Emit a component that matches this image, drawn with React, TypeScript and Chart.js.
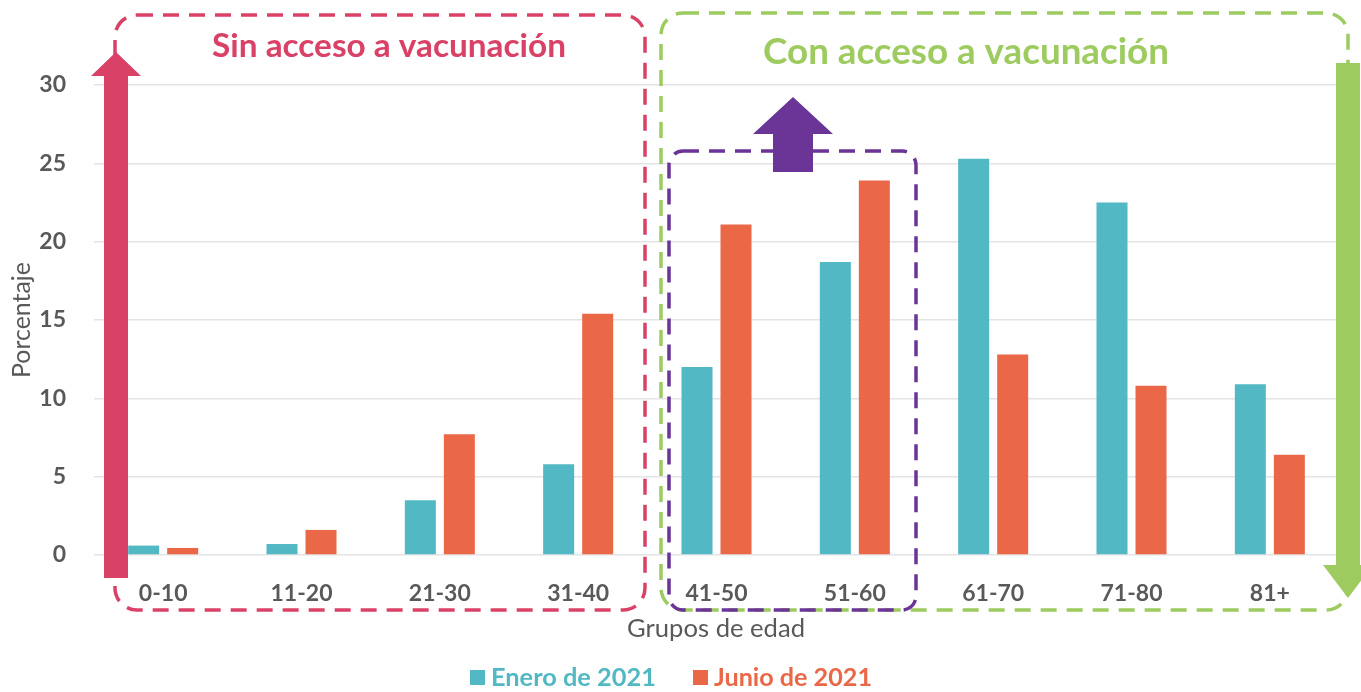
import { useEffect, useRef } from "react";
import { Chart, registerables } from "chart.js";

Chart.register(...registerables);

const categories = ["0-10", "11-20", "21-30", "31-40", "41-50", "51-60", "61-70", "71-80", "81+"];
const enero2021 = [0.6, 0.7, 3.5, 5.8, 12.0, 18.7, 25.3, 22.5, 10.9];
const junio2021 = [0.45, 1.6, 7.7, 15.4, 21.1, 23.9, 12.8, 10.8, 6.4];
const yTicks = [0, 5, 10, 15, 20, 25, 30];
const seriesLabels = ["Enero de 2021", "Junio de 2021"];
const groupTitles = ["Sin acceso a vacunación", "Con acceso a vacunación"];
const xTitle = "Grupos de edad";
const yTitle = "Porcentaje";

const CYAN = "#52B8C3";
const ORANGE = "#EA6847";
const PINK = "#DA4167";
const GREEN = "#9DCB5F";
const PURPLE = "#6A3597";
const GRAY = "#595959";
const FONT = "Lato, 'Open Sans', sans-serif";

function fitFont(ctx: CanvasRenderingContext2D, text: string, weight: string, target: number) {
  ctx.font = `${weight} 40px ${FONT}`;
  const w = ctx.measureText(text).width;
  const size = (40 * target) / w;
  ctx.font = `${weight} ${size}px ${FONT}`;
}

function dashedRoundRect(ctx: CanvasRenderingContext2D, l: number, t: number, r: number, b: number, rad: number, color: string) {
  ctx.save();
  ctx.strokeStyle = color;
  ctx.lineWidth = 3.5;
  ctx.setLineDash([16, 10]);
  ctx.beginPath();
  ctx.moveTo(l + rad, t);
  ctx.lineTo(r - rad, t);
  ctx.arcTo(r, t, r, t + rad, rad);
  ctx.lineTo(r, b - rad);
  ctx.arcTo(r, b, r - rad, b, rad);
  ctx.lineTo(l + rad, b);
  ctx.arcTo(l, b, l, b - rad, rad);
  ctx.lineTo(l, t + rad);
  ctx.arcTo(l, t, l + rad, t, rad);
  ctx.stroke();
  ctx.restore();
}

function arrow(ctx: CanvasRenderingContext2D, cx: number, shaftHalf: number, headHalf: number, tail: number, headBase: number, tip: number, color: string) {
  ctx.save();
  ctx.fillStyle = color;
  ctx.beginPath();
  ctx.moveTo(cx - shaftHalf, tail);
  ctx.lineTo(cx - shaftHalf, headBase);
  ctx.lineTo(cx - headHalf, headBase);
  ctx.lineTo(cx, tip);
  ctx.lineTo(cx + headHalf, headBase);
  ctx.lineTo(cx + shaftHalf, headBase);
  ctx.lineTo(cx + shaftHalf, tail);
  ctx.closePath();
  ctx.fill();
  ctx.restore();
}

const decorations = {
  id: "decorations",
  afterDraw(chart: any) {
    const ctx: CanvasRenderingContext2D = chart.ctx;
    ctx.save();
    // dashed group boxes
    dashedRoundRect(ctx, 115, 15, 645, 610, 22, PINK);
    dashedRoundRect(ctx, 661, 13, 1348, 610, 22, GREEN);
    dashedRoundRect(ctx, 669, 151, 916, 610, 14, PURPLE);
    // arrows
    arrow(ctx, 116, 12, 25, 578, 76, 52, PINK);
    arrow(ctx, 793, 20, 40, 172, 134, 97, PURPLE);
    arrow(ctx, 1348, 12, 25, 63, 565, 598, GREEN);

    // titles
    ctx.textAlign = "center";
    ctx.textBaseline = "middle";
    ctx.fillStyle = PINK;
    fitFont(ctx, groupTitles[0], "bold", 354);
    ctx.fillText(groupTitles[0], 389, 46);
    ctx.fillStyle = GREEN;
    fitFont(ctx, groupTitles[1], "bold", 406);
    ctx.fillText(groupTitles[1], 966, 52);

    // axis titles
    ctx.fillStyle = GRAY;
    fitFont(ctx, xTitle, "normal", 178);
    ctx.fillText(xTitle, 716, 629);
    ctx.save();
    ctx.translate(22, 320);
    ctx.rotate(-Math.PI / 2);
    fitFont(ctx, yTitle, "normal", 116);
    ctx.fillText(yTitle, 0, 0);
    ctx.restore();

    // legend
    ctx.textAlign = "left";
    ctx.fillStyle = CYAN;
    ctx.fillRect(470, 670, 15, 15);
    fitFont(ctx, seriesLabels[0], "bold", 165);
    ctx.fillText(seriesLabels[0], 491, 678);
    ctx.fillStyle = ORANGE;
    ctx.fillRect(693, 670, 15, 15);
    fitFont(ctx, seriesLabels[1], "bold", 158);
    ctx.fillText(seriesLabels[1], 714, 678);
    ctx.restore();
  },
};

export default function App() {
  const ref = useRef<HTMLCanvasElement | null>(null);
  useEffect(() => {
    if (!ref.current) return;
    const chart = new Chart(ref.current, {
      type: "bar",
      data: {
        labels: categories,
        datasets: [
          { label: seriesLabels[0], data: enero2021, backgroundColor: CYAN },
          { label: seriesLabels[1], data: junio2021, backgroundColor: ORANGE },
        ],
      },
      options: {
        responsive: false,
        animation: false,
        layout: { padding: { top: 85, right: 22, left: 0, bottom: 0 } },
        datasets: { bar: { categoryPercentage: 0.564, barPercentage: 0.795 } },
        plugins: { legend: { display: false }, tooltip: { enabled: false } },
        scales: {
          x: {
            grid: { display: false, drawTicks: false },
            border: { display: false },
            ticks: { color: GRAY, padding: 25, font: { family: FONT, weight: "bold", size: 23 } },
            afterFit: (s: any) => {
              s.height = 137;
            },
          },
          y: {
            min: 0,
            max: 30,
            grid: { color: "#e4e4e4", lineWidth: 1.5, drawTicks: false },
            border: { display: false },
            ticks: { color: GRAY, padding: 28, font: { family: FONT, weight: "bold", size: 23 } },
            afterBuildTicks: (s: any) => {
              s.ticks = yTicks.map((v) => ({ value: v }));
            },
            afterFit: (s: any) => {
              s.width = 94;
            },
          },
        },
      } as any,
      plugins: [decorations],
    });
    return () => chart.destroy();
  }, []);
  return (
    <div style={{ position: "fixed", left: 0, top: 0, width: 1361, height: 692, background: "#fff" }}>
      <canvas ref={ref} width={1361} height={692} style={{ display: "block" }} />
    </div>
  );
}
